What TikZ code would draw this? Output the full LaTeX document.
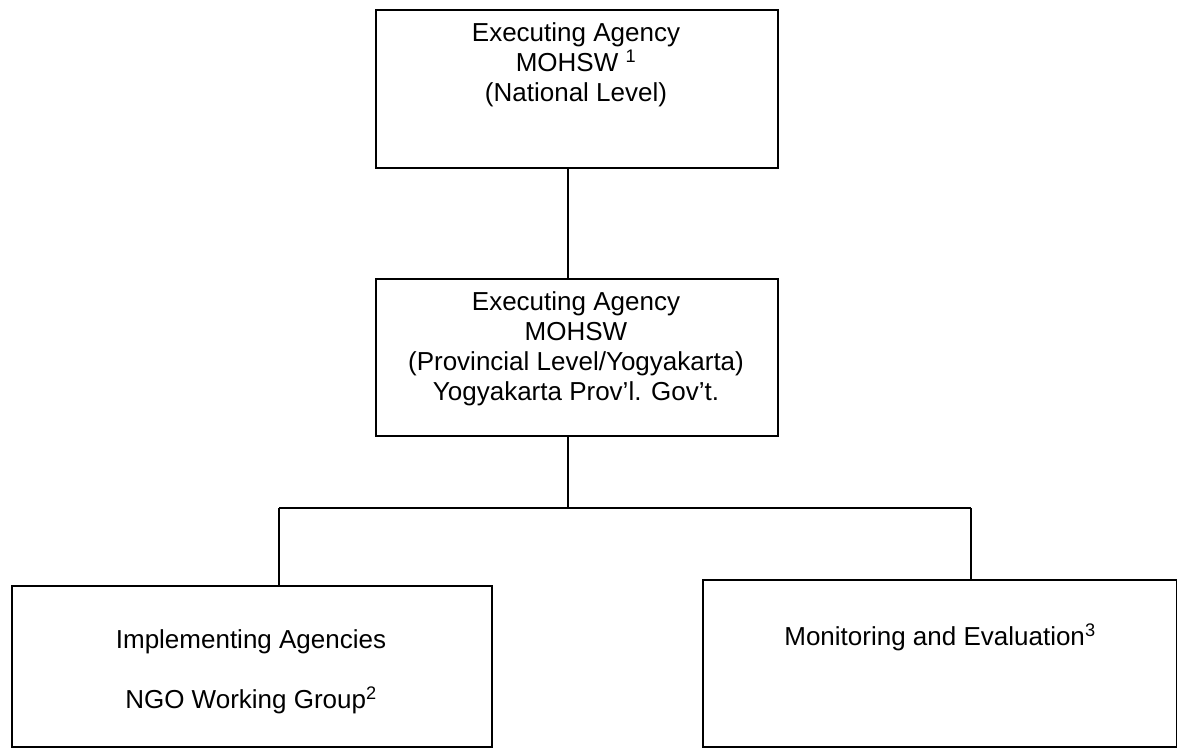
\documentclass[tikz,border=0pt]{standalone}
\usepackage{fontspec}
\setmainfont{Liberation Sans}
\begin{document}
\begin{tikzpicture}[x=1pt,y=-1pt,
  box/.style={draw, line width=1.6pt, inner sep=0pt, anchor=north west},
  conn/.style={line width=1.4pt},
  txt/.style={align=center, font=\fontsize{26}{30}\selectfont, inner sep=0pt}]
\useasboundingbox (0,0) rectangle (1177,748);
% boxes
\node[box, minimum width=402pt, minimum height=158pt] (top) at (375,9) {};
\node[box, minimum width=402pt, minimum height=157pt] (mid) at (375,278) {};
\node[box, minimum width=480pt, minimum height=161pt] (lb) at (11,585) {};
\node[box, minimum width=474pt, minimum height=167pt] (rb) at (702,579) {};
% texts
\node[txt] (t1) at (576,65) {Executing Agency\\MOHSW \textsuperscript{1}\\(National Level)};
\node[txt] (t2) at (576,349) {Executing Agency\\MOHSW\\(Provincial Level/Yogyakarta)\\Yogyakarta Prov’l. Gov’t.};
\node[txt] (t3) at (251,672) {Implementing Agencies\\[30pt]NGO Working Group\textsuperscript{2}};
\node[txt] (t4) at (940,637) {Monitoring and Evaluation\textsuperscript{3}};
% connectors
\coordinate (j) at (568,508);
\coordinate (jl) at (279,508);
\coordinate (jr) at (971,508);
\draw[conn] (top.south -| j) -- (mid.north -| j);
\draw[conn] (mid.south -| j) -- (j);
\draw[conn] (jl) -- (jr);
\draw[conn] (jl) -- (jl |- lb.north);
\draw[conn] (jr) -- (jr |- rb.north);
\end{tikzpicture}
\end{document}
